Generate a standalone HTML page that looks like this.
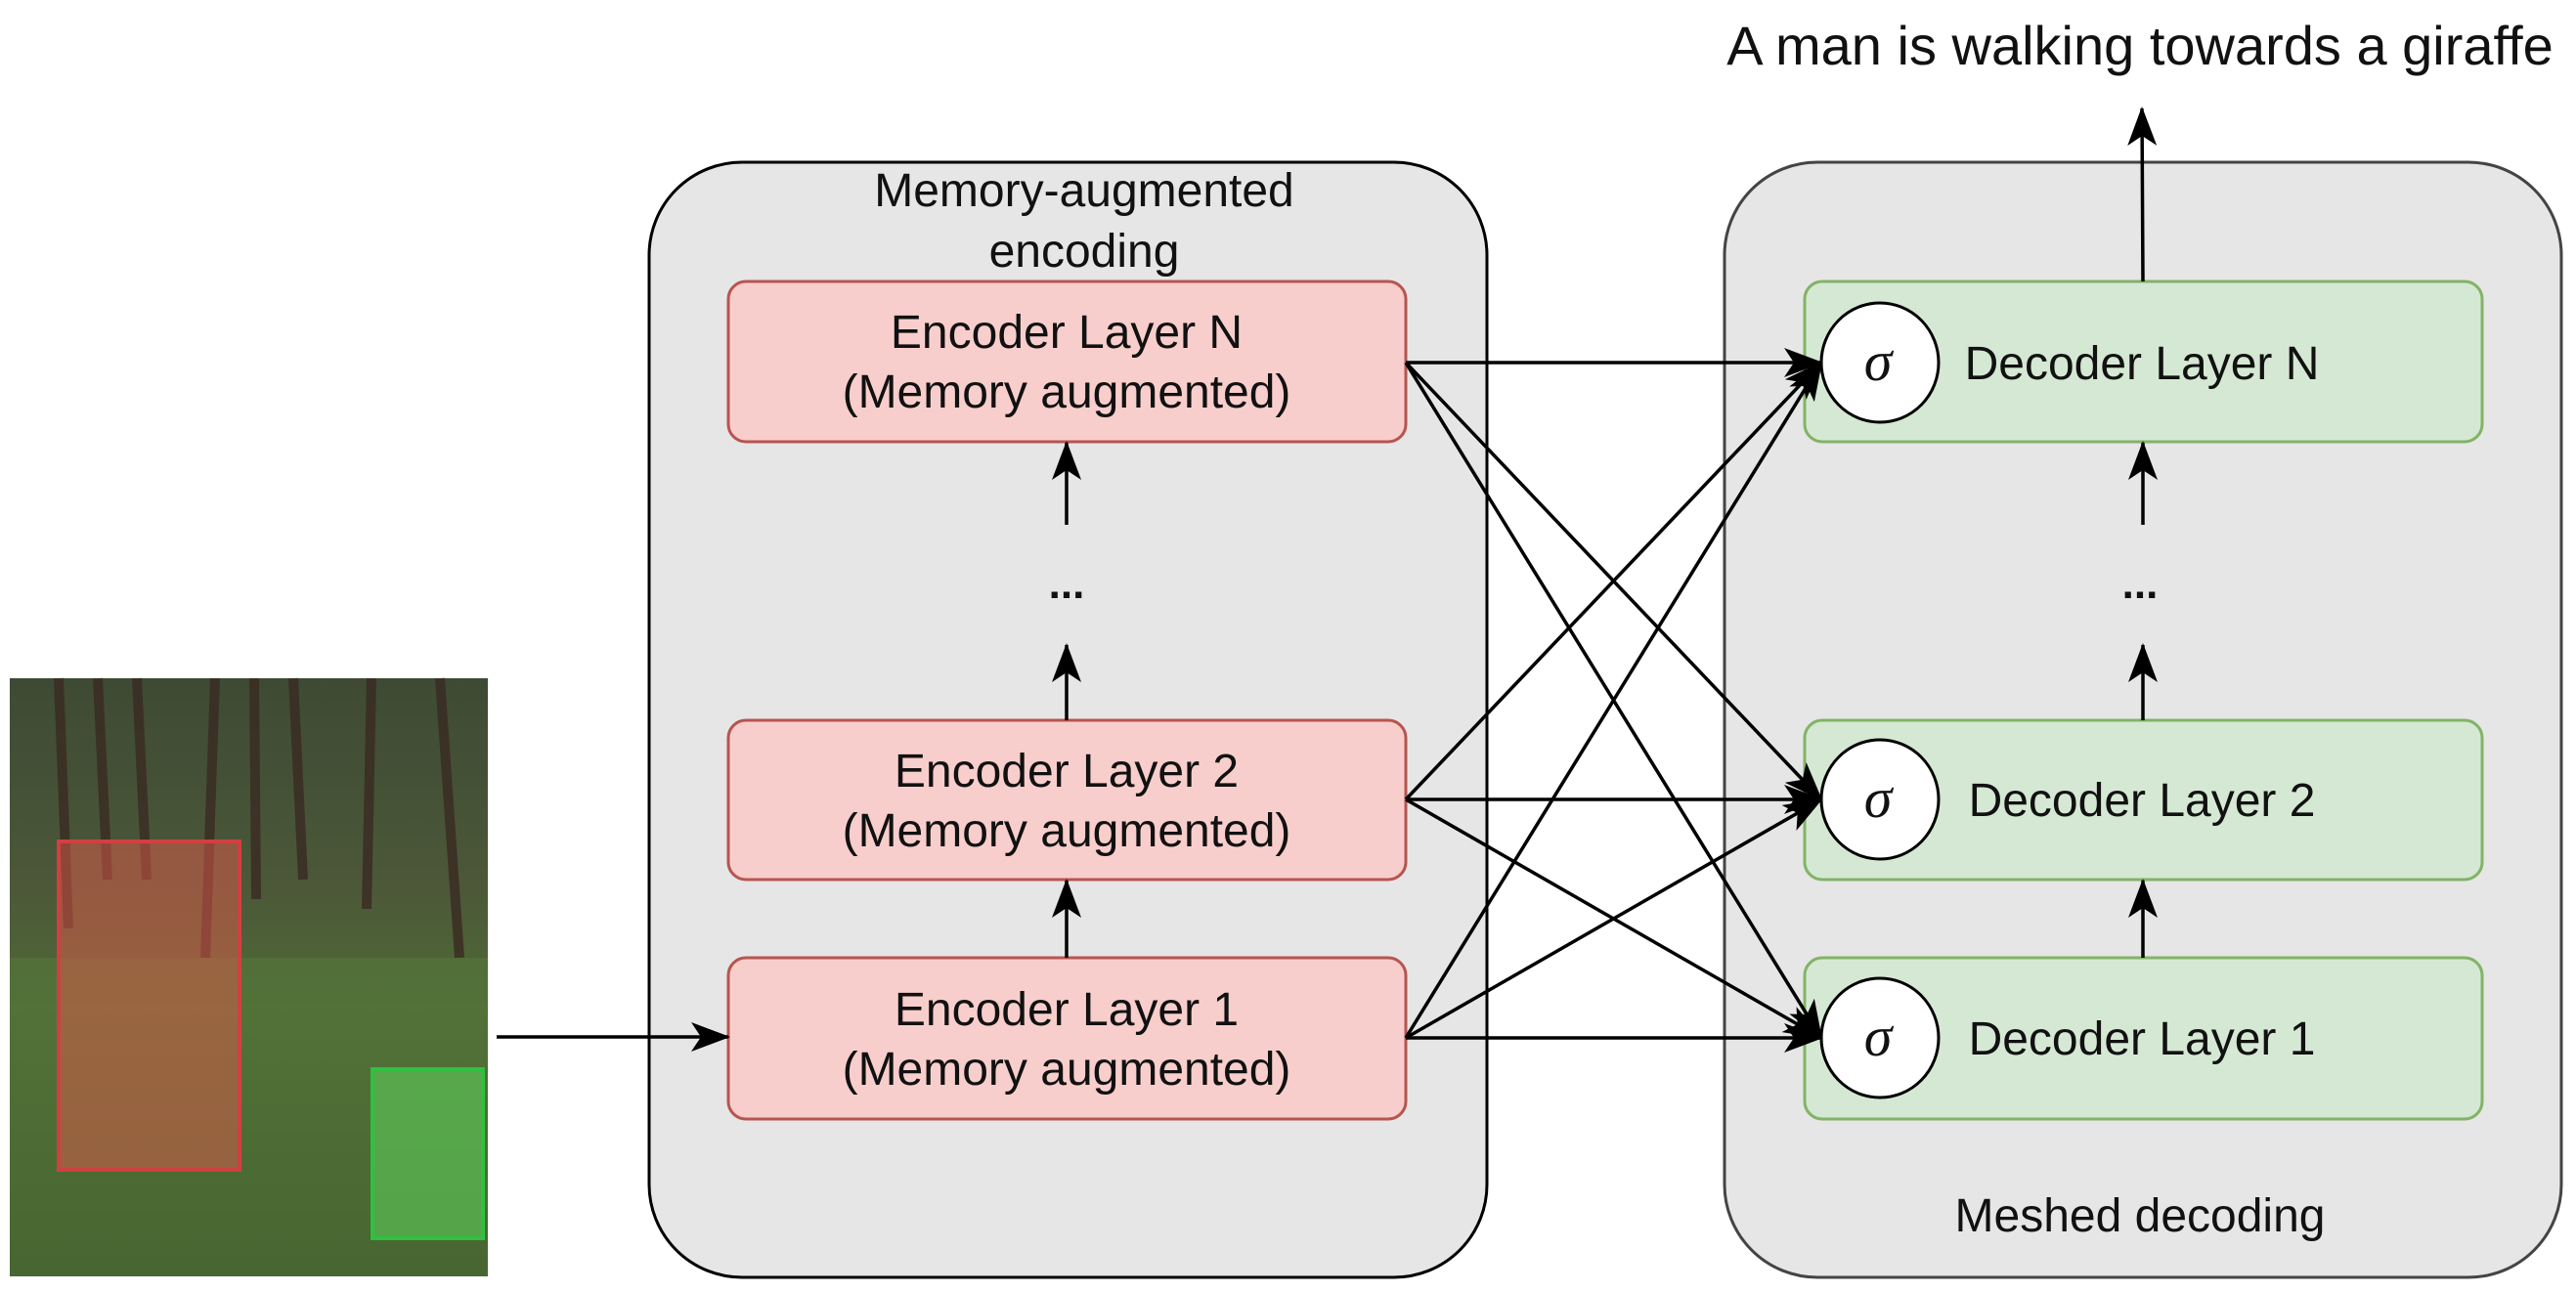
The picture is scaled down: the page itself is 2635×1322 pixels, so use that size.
<!DOCTYPE html>
<html><head><meta charset="utf-8"><style>
html,body{margin:0;padding:0;background:#fff;}
svg{display:block;}
text{font-family:"Liberation Sans",sans-serif;fill:#111;}
</style></head><body>
<svg width="2635" height="1322" viewBox="0 0 2635 1322" xmlns="http://www.w3.org/2000/svg">
<defs>
<marker id="b" viewBox="0 0 40 30" refX="38" refY="15" markerWidth="40" markerHeight="30" markerUnits="userSpaceOnUse" orient="auto">
<path d="M0,0 L40,15 L0,30 L10,15 z" fill="#000"/>
</marker>
<linearGradient id="bg" x1="0" y1="0" x2="0" y2="1">
<stop offset="0" stop-color="#3e4a34"/><stop offset="0.35" stop-color="#4c5838"/><stop offset="0.55" stop-color="#4f6a38"/><stop offset="1" stop-color="#3a5228"/>
</linearGradient>
</defs>
<!-- photo -->
<rect x="10" y="694" width="489" height="612" fill="url(#bg)"/>
<g stroke="#3a2a22" stroke-width="10" opacity="0.8">
<line x1="60" y1="694" x2="70" y2="950"/><line x1="140" y1="694" x2="150" y2="900"/><line x1="220" y1="694" x2="210" y2="980"/>
<line x1="300" y1="694" x2="310" y2="900"/><line x1="380" y1="694" x2="375" y2="930"/><line x1="450" y1="694" x2="470" y2="980"/>
<line x1="260" y1="694" x2="262" y2="920"/><line x1="100" y1="694" x2="110" y2="900"/>
</g>
<rect x="10" y="980" width="489" height="326" fill="#567a3a" opacity="0.5"/>
<rect x="60" y="861" width="185" height="336" fill="#e05a4a" fill-opacity="0.5" stroke="#d04040" stroke-width="4"/>
<rect x="381" y="1094" width="113" height="173" fill="#5fe060" fill-opacity="0.5" stroke="#30c040" stroke-width="4"/>
<!-- containers -->
<rect x="664" y="166" width="857" height="1141" rx="95" fill="#e6e6e6" stroke="#000" stroke-width="3"/>
<rect x="1764" y="166" width="856" height="1141" rx="95" fill="#e6e6e6" stroke="#444" stroke-width="3"/>
<text x="1109" y="211" font-size="48" text-anchor="middle">Memory-augmented</text>
<text x="1109" y="273" font-size="48" text-anchor="middle">encoding</text>
<text x="2189" y="1260" font-size="48" text-anchor="middle">Meshed decoding</text>
<text x="2189" y="66" font-size="56" text-anchor="middle">A man is walking towards a giraffe</text>
<!-- encoder boxes -->
<g fill="#f8cecc" stroke="#b85450" stroke-width="3">
<rect x="745" y="288" width="693" height="164" rx="18"/>
<rect x="745" y="737" width="693" height="163" rx="18"/>
<rect x="745" y="980" width="693" height="165" rx="18"/>
</g>
<g font-size="48" text-anchor="middle">
<text x="1091" y="356">Encoder Layer N</text><text x="1091" y="417">(Memory augmented)</text>
<text x="1091" y="805">Encoder Layer 2</text><text x="1091" y="866">(Memory augmented)</text>
<text x="1091" y="1049">Encoder Layer 1</text><text x="1091" y="1110">(Memory augmented)</text>
</g>
<!-- decoder boxes -->
<g fill="#d5e8d4" stroke="#82b366" stroke-width="3">
<rect x="1846" y="288" width="693" height="164" rx="18"/>
<rect x="1846" y="737" width="693" height="163" rx="18"/>
<rect x="1846" y="980" width="693" height="165" rx="18"/>
</g>
<g font-size="48" text-anchor="middle">
<text x="2191" y="388">Decoder Layer N</text>
<text x="2191" y="835">Decoder Layer 2</text>
<text x="2191" y="1079">Decoder Layer 1</text>
</g>
<g fill="#fff" stroke="#000" stroke-width="3">
<ellipse cx="1923" cy="371" rx="60" ry="61"/>
<ellipse cx="1923" cy="818" rx="60" ry="61"/>
<ellipse cx="1923" cy="1062" rx="60" ry="61"/>
</g>
<g font-size="58" text-anchor="middle" font-style="italic">
<text x="1921" y="389" style="font-family:'Liberation Serif',serif">σ</text>
<text x="1921" y="836" style="font-family:'Liberation Serif',serif">σ</text>
<text x="1921" y="1080" style="font-family:'Liberation Serif',serif">σ</text>
</g>
<g font-size="44" font-weight="bold" text-anchor="middle">
<text x="1091" y="612">...</text><text x="2189" y="612">...</text>
</g>
<!-- arrows -->
<g stroke="#000" stroke-width="3.5" fill="none" marker-end="url(#b)">
<line x1="508" y1="1061" x2="745" y2="1061"/>
<line x1="1091" y1="980" x2="1091" y2="901"/>
<line x1="1091" y1="737" x2="1091" y2="660"/>
<line x1="1091" y1="537" x2="1091" y2="453"/>
<line x1="2192" y1="980" x2="2192" y2="901"/>
<line x1="2192" y1="737" x2="2192" y2="660"/>
<line x1="2192" y1="537" x2="2192" y2="453"/>
<line x1="2192" y1="288" x2="2191" y2="111"/>
<line x1="1438" y1="371" x2="1863" y2="371"/>
<line x1="1438" y1="371" x2="1863" y2="818"/>
<line x1="1438" y1="371" x2="1863" y2="1062"/>
<line x1="1438" y1="818" x2="1863" y2="371"/>
<line x1="1438" y1="818" x2="1863" y2="818"/>
<line x1="1438" y1="818" x2="1863" y2="1062"/>
<line x1="1438" y1="1062" x2="1863" y2="371"/>
<line x1="1438" y1="1062" x2="1863" y2="818"/>
<line x1="1438" y1="1062" x2="1863" y2="1062"/>
</g>
</svg>
</body></html>
